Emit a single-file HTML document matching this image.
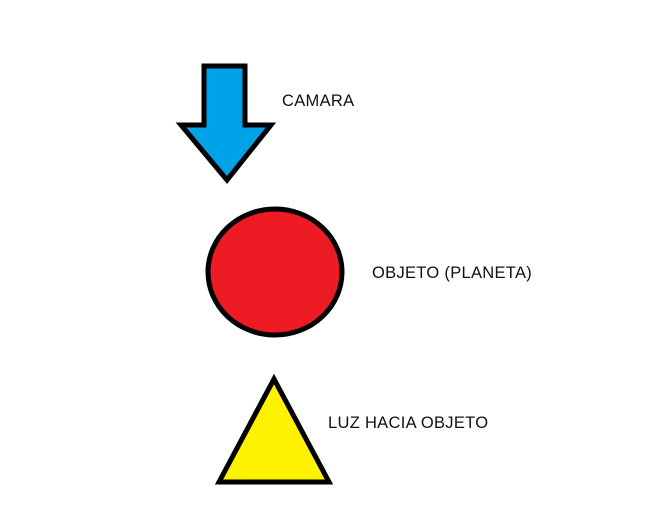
<!DOCTYPE html>
<html><head><style>
html,body{margin:0;padding:0;background:#fff;}
svg{display:block}
text{font-family:"Liberation Sans",sans-serif;font-size:16.5px;fill:#111;letter-spacing:0.3px}
</style></head><body>
<svg width="652" height="512" viewBox="0 0 652 512" xmlns="http://www.w3.org/2000/svg">
<rect width="652" height="512" fill="#fff"/>
<polygon points="204,66 245,66 245,125 271,125 227,180 181,125 204,125" fill="#00a2e8" stroke="#000" stroke-width="5" stroke-linejoin="miter"/>
<ellipse cx="275" cy="272" rx="67" ry="63" fill="#ed1c24" stroke="#000" stroke-width="5"/>
<polygon points="274,379 329,482 219,482" fill="#fff200" stroke="#000" stroke-width="5" stroke-linejoin="miter"/>
<text x="282" y="106">CAMARA</text>
<text x="372" y="278">OBJETO (PLANETA)</text>
<text x="328" y="428">LUZ HACIA OBJETO</text>
</svg>
</body></html>
